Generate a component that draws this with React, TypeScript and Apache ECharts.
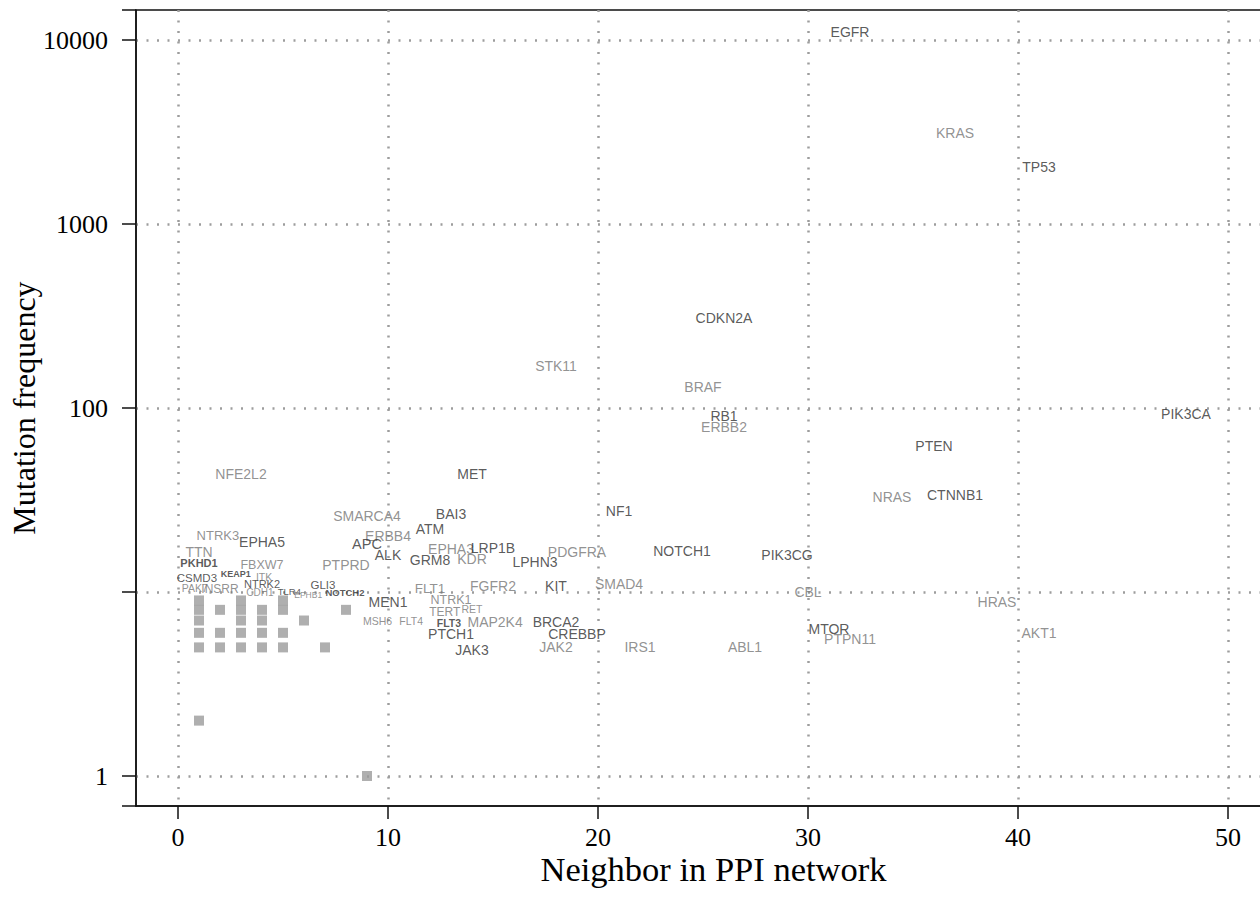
import React, { useEffect, useRef } from "react";
import * as echarts from "echarts";

// Labelled genes: name, neighbours in PPI network, mutation frequency
const geneNames = [
  "EGFR", "KRAS", "TP53", "CDKN2A", "STK11", "BRAF", "RB1", "ERBB2", "PIK3CA", "PTEN",
  "NRAS", "CTNNB1", "NFE2L2", "MET", "SMARCA4", "BAI3", "NF1", "ATM", "ERBB4", "NTRK3",
  "EPHA5", "APC", "EPHA3", "LRP1B", "PDGFRA", "NOTCH1", "PIK3CG", "TTN", "ALK", "GRM8",
  "KDR", "LPHN3", "PTPRD", "PKHD1", "FBXW7", "CSMD3", "KEAP1", "ITK", "NTRK2", "GLI3",
  "FLT1", "FGFR2", "KIT", "SMAD4", "PAK7", "INSRR", "CDH1", "TLR4", "EPHB1", "NOTCH2",
  "CBL", "MEN1", "NTRK1", "HRAS", "TERT", "RET", "MSH6", "FLT4", "FLT3", "MAP2K4",
  "BRCA2", "MTOR", "PTCH1", "CREBBP", "AKT1", "PTPN11", "JAK3", "JAK2", "IRS1", "ABL1",
];
const geneNeighbors = [
  32, 37, 41, 26, 18, 25, 26, 26, 48, 36,
  34, 37, 3, 14, 9, 13, 21, 12, 10, 1.9,
  4, 9, 13, 15, 19, 24, 29, 1, 10, 12,
  14, 17, 8, 1, 4, 0.9, 2.75, 4.1, 4, 6.9,
  12, 15, 18, 21, 0.8, 2, 3.9, 5.3, 6.2, 7.95,
  30, 10, 13, 39, 12.7, 14, 9.5, 11.1, 12.9, 15.1,
  18, 31, 13, 19, 41, 32, 14, 18, 22, 27,
];
const geneFrequency = [
  11000, 3120, 2040, 307, 169, 130, 90, 79, 93, 62,
  32.7, 33.7, 43.6, 43.6, 25.9, 26.4, 27.7, 21.9, 20.2, 20.2,
  18.8, 18.2, 17.1, 17.3, 16.4, 16.7, 15.8, 16.4, 15.9, 14.9,
  15.1, 14.6, 14.0, 14.3, 14.1, 11.9, 12.5, 12.0, 11.1, 10.9,
  10.5, 10.8, 10.8, 11.1, 10.5, 10.4, 10.0, 10.1, 9.6, 9.9,
  10, 8.86, 9.05, 8.86, 7.8, 8.1, 7, 7, 6.8, 6.9,
  6.9, 6.3, 5.9, 5.9, 6.0, 5.55, 4.84, 5.0, 5.0, 5.0,
];

// Label styling (kept apart from the values)
const geneTone = [
  "d", "g", "d", "d", "g", "g", "d", "g", "d", "d",
  "g", "d", "g", "d", "g", "d", "d", "d", "g", "g",
  "d", "d", "g", "d", "g", "d", "d", "g", "d", "d",
  "g", "d", "g", "d", "g", "d", "d", "g", "d", "d",
  "g", "g", "d", "g", "g", "g", "g", "d", "g", "d",
  "g", "d", "g", "g", "g", "g", "g", "g", "d", "g",
  "d", "d", "d", "d", "g", "g", "d", "g", "g", "g",
];
const geneFontSize = [
  14, 14, 14, 14, 14, 14, 14, 14, 14, 14,
  14, 14, 14, 14, 14, 14, 14, 14, 14, 13,
  14, 14.5, 14, 14, 14, 14, 14, 14, 14, 14,
  14, 14, 14, 11, 12.5, 11.5, 9, 10.5, 11, 11.5,
  13.5, 14, 14, 14, 10.5, 12, 10, 9.5, 8.5, 9.5,
  14, 14, 12.5, 14, 12, 10.5, 10.5, 10.5, 10.5, 14,
  14, 14, 14, 14, 14, 14, 14, 14, 14, 14,
];
const geneBold = ["PKHD1", "KEAP1", "NOTCH2", "FLT3"];

// Unlabelled genes drawn as grey squares
const squareNeighbors = [1, 1, 1, 1, 1, 1, 2, 2, 2, 3, 3, 3, 3, 3, 4, 4, 4, 4, 5, 5, 5, 5, 6, 7, 8, 9];
const squareFrequency = [2, 5, 6, 7, 8, 9, 5, 6, 8, 5, 6, 7, 8, 9, 5, 6, 7, 8, 5, 6, 8, 9, 7, 5, 8, 1];

// Axes
const xTickValues = [0, 10, 20, 30, 40, 50];
const yLabelValues = [1, 100, 1000, 10000];
const xRange = [-2, 53];
const yRange = [0.687, 14560];

export default function App() {
  const ref = useRef<HTMLDivElement>(null);

  useEffect(() => {
    document.body.style.margin = "0";
    const chart = echarts.init(ref.current!, null, { renderer: "svg" });
    const dark = "#303030";
    const grey = "#767676";
    const gridDots = { color: "#9d9d9d", type: [2, 8.5], width: 2.5 };
    const serif = "'Liberation Serif', 'Times New Roman', serif";
    const sans = "'Liberation Sans', Arial, sans-serif";

    const labelData = geneNames.map((name, i) => ({
      name,
      value: [geneNeighbors[i], geneFrequency[i]],
      label: {
        color: geneTone[i] === "d" ? dark : grey,
        fontSize: geneFontSize[i],
        fontWeight: geneBold.includes(name) ? "bold" : "normal",
      },
    }));
    const squares = squareNeighbors.map((x, i) => [x, squareFrequency[i]]);

    chart.setOption({
      animation: false,
      textStyle: { fontFamily: sans },
      grid: {
        left: 136,
        right: 29,
        top: 10,
        bottom: 97,
        show: true,
        borderColor: "#111",
        borderWidth: 1.5,
        containLabel: false,
        outerBoundsMode: "none",
      },
      xAxis: {
        type: "value",
        min: xRange[0],
        max: xRange[1],
        name: "Neighbor in PPI network",
        nameLocation: "middle",
        nameGap: 45,
        nameMoveOverlap: false,
        nameTextStyle: { fontFamily: serif, fontSize: 34.5, color: "#000" },
        axisLine: { show: true, onZero: false, lineStyle: { color: "#111", width: 1.5 } },
        axisTick: { show: true, inside: false, length: 13, customValues: xTickValues, lineStyle: { color: "#111", width: 1.5 } },
        axisLabel: { customValues: xTickValues, margin: 18, fontFamily: serif, fontSize: 26, color: "#000" },
        splitLine: { show: true, lineStyle: gridDots },
      },
      yAxis: {
        type: "log",
        logBase: 10,
        min: yRange[0],
        max: yRange[1],
        name: "Mutation frequency",
        nameLocation: "middle",
        nameGap: 96,
        nameMoveOverlap: false,
        nameRotate: 90,
        nameTextStyle: { fontFamily: serif, fontSize: 32, color: "#000" },
        axisLine: { show: true, onZero: false, lineStyle: { color: "#111", width: 1.5 } },
        axisTick: { show: true, inside: false, length: 14, lineStyle: { color: "#111", width: 1.5 } },
        axisLabel: {
          margin: 28,
          fontFamily: serif,
          fontSize: 26,
          color: "#000",
          formatter: (v: number) => {
            const hit = yLabelValues.find((t) => Math.abs(v - t) < 1e-6 * t);
            return hit !== undefined ? String(hit) : "";
          },
        },
        splitLine: { show: true, showMinLine: false, showMaxLine: false, lineStyle: gridDots },
      },
      series: [
        {
          type: "scatter",
          data: squares,
          symbol: "rect",
          symbolSize: 10,
          itemStyle: { color: "#9b9b9b" },
          silent: true,
          z: 2,
        },
        {
          type: "scatter",
          data: labelData,
          symbolSize: 1,
          itemStyle: { color: "rgba(0,0,0,0)" },
          label: { show: true, position: "inside", formatter: "{b}", fontFamily: sans },
          silent: true,
          z: 3,
        },
      ],
    });
    return () => chart.dispose();
  }, []);

  return (
    <div style={{ position: "fixed", left: 0, top: 0, width: 1260, height: 903, overflow: "hidden", background: "#fff" }}>
      <div ref={ref} style={{ width: 1320, height: 903 }} />
    </div>
  );
}
